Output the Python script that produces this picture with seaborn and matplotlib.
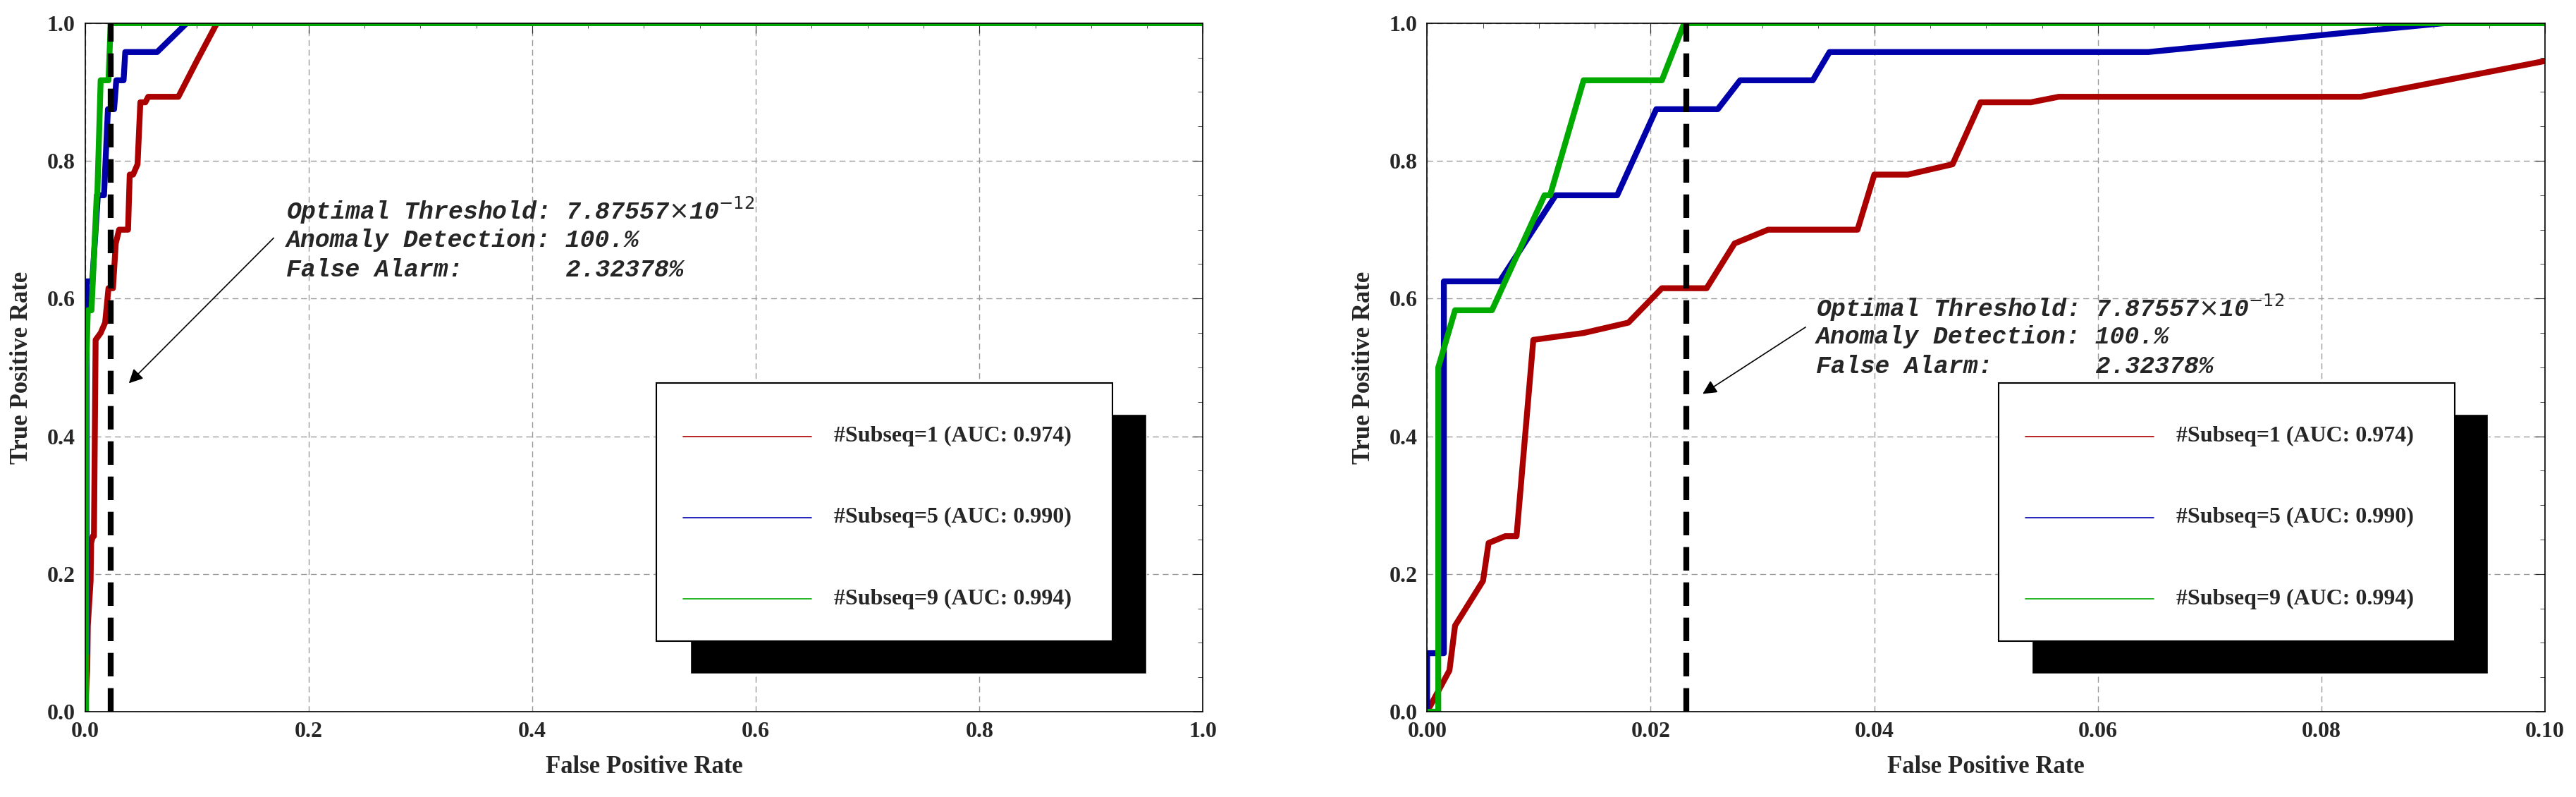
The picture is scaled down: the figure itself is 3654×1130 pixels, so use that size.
import matplotlib
matplotlib.use('Agg')
import matplotlib.pyplot as plt
from matplotlib.patches import Rectangle
from matplotlib.ticker import AutoMinorLocator
import seaborn as sns
import pandas as pd

# ROC curves
red_fpr = [0, 0.001, 0.002, 0.0025, 0.005, 0.0055, 0.007, 0.008, 0.0095, 0.014, 0.018, 0.021, 0.025,
           0.0275, 0.0305, 0.0385, 0.04, 0.043, 0.047, 0.0495, 0.054, 0.0565, 0.0835, 0.1, 0.118, 1.0]
red_tpr = [0, 0.03, 0.06, 0.125, 0.19, 0.245, 0.255, 0.255, 0.54, 0.55, 0.565, 0.615, 0.615,
           0.68, 0.70, 0.70, 0.78, 0.78, 0.795, 0.885, 0.885, 0.893, 0.893, 0.945, 1.0, 1.0]
blue_fpr = [0, 0, 0.0015, 0.0015, 0.0065, 0.0115, 0.017, 0.0205, 0.026, 0.028, 0.0345, 0.036, 0.0645, 0.091, 1.0]
blue_tpr = [0, 0.085, 0.085, 0.625, 0.625, 0.75, 0.75, 0.875, 0.875, 0.917, 0.917, 0.958, 0.958, 1.0, 1.0]
green_fpr = [0, 0.001, 0.001, 0.0025, 0.0058, 0.0105, 0.011, 0.014, 0.021, 0.023, 1.0]
green_tpr = [0, 0, 0.5, 0.583, 0.583, 0.75, 0.75, 0.917, 0.917, 1.0, 1.0]
labels = ['#Subseq=1 (AUC: 0.974)', '#Subseq=5 (AUC: 0.990)', '#Subseq=9 (AUC: 0.994)']
colors = ['#aa0000', '#0000aa', '#00aa00']
threshold_x = 0.0232
note = ['Optimal Threshold: 7.87557$\\times$10$^{-12}$', 'Anomaly Detection: 100.%', 'False Alarm:       2.32378%']

curves = pd.concat([
    pd.DataFrame({'fpr': f, 'tpr': t, 'series': l})
    for f, t, l in zip([red_fpr, blue_fpr, green_fpr], [red_tpr, blue_tpr, green_tpr], labels)
])

sns.set_style('white')
plt.rcParams['font.family'] = ['Liberation Serif', 'DejaVu Serif']

fig = plt.figure(figsize=(36.54, 11.30), dpi=100)
axes = [fig.add_axes([0.033, 0.107, 0.434, 0.864]), fig.add_axes([0.554, 0.107, 0.434, 0.864])]
setups = [
    dict(xmax=1.0, xt=[0, 0.2, 0.4, 0.6, 0.8, 1.0], fmt='{:.1f}', txt=(0.18, 0.728), arr=((0.17, 0.69), (0.038, 0.475))),
    dict(xmax=0.1, xt=[0, 0.02, 0.04, 0.06, 0.08, 0.1], fmt='{:.2f}', txt=(0.348, 0.587), arr=((0.34, 0.56), (0.245, 0.46))),
]

for ax, s in zip(axes, setups):
    sns.lineplot(data=curves, x='fpr', y='tpr', hue='series', palette=colors, sort=False,
                 estimator=None, lw=6, ax=ax, legend=False)
    ax.axvline(threshold_x, color='black', ls=(0, (4, 2)), lw=6)
    ax.set_xlim(0, s['xmax'])
    ax.set_ylim(0, 1)
    ax.set_xticks(s['xt'])
    ax.set_xticklabels([s['fmt'].format(v) for v in s['xt']])
    ax.set_yticks([0, 0.2, 0.4, 0.6, 0.8, 1.0])
    ax.set_yticklabels(['{:.1f}'.format(v) for v in [0, 0.2, 0.4, 0.6, 0.8, 1.0]])
    ax.xaxis.set_minor_locator(AutoMinorLocator(4))
    ax.yaxis.set_minor_locator(AutoMinorLocator(4))
    ax.tick_params(which='both', direction='in', top=True, right=True, labelsize=23, pad=10)
    ax.tick_params(which='major', length=10)
    ax.tick_params(which='minor', length=5)
    for t in ax.get_xticklabels() + ax.get_yticklabels():
        t.set_fontweight('bold')
    ax.grid(True, ls=(0, (6, 4)), color='#999999', lw=1)
    for sp in ax.spines.values():
        sp.set_color('black')
        sp.set_linewidth(1.2)
    ax.set_xlabel('False Positive Rate', fontsize=25, fontweight='bold', labelpad=14)
    ax.set_ylabel('True Positive Rate', fontsize=25, fontweight='bold', labelpad=14)

    tx, ty = s['txt']
    for i, line in enumerate(note):
        ax.text(tx, ty - i * 0.043, line, transform=ax.transAxes, fontsize=25, style='italic',
                fontweight='bold', family=['Liberation Mono', 'DejaVu Sans Mono'], va='center', zorder=5)
    ax.annotate('', xy=s['arr'][1], xytext=s['arr'][0], xycoords='axes fraction',
                arrowprops=dict(arrowstyle='-|>', color='black', lw=1.2, mutation_scale=30))

    ax.add_patch(Rectangle((0.541, 0.055), 0.408, 0.377, transform=ax.transAxes,
                           facecolor='black', zorder=6))
    ax.add_patch(Rectangle((0.511, 0.103), 0.408, 0.374, transform=ax.transAxes,
                           facecolor='white', edgecolor='black', lw=1.5, zorder=7))
    for i, (lab, c) in enumerate(zip(labels, colors)):
        yy = 0.40 - i * 0.118
        ax.plot([0.535, 0.65], [yy, yy], color=c, lw=1.2, transform=ax.transAxes, zorder=8)
        ax.text(0.67, yy, lab, transform=ax.transAxes, fontsize=23, fontweight='bold',
                va='center', zorder=8)

fig.savefig('out.png', dpi=100)
